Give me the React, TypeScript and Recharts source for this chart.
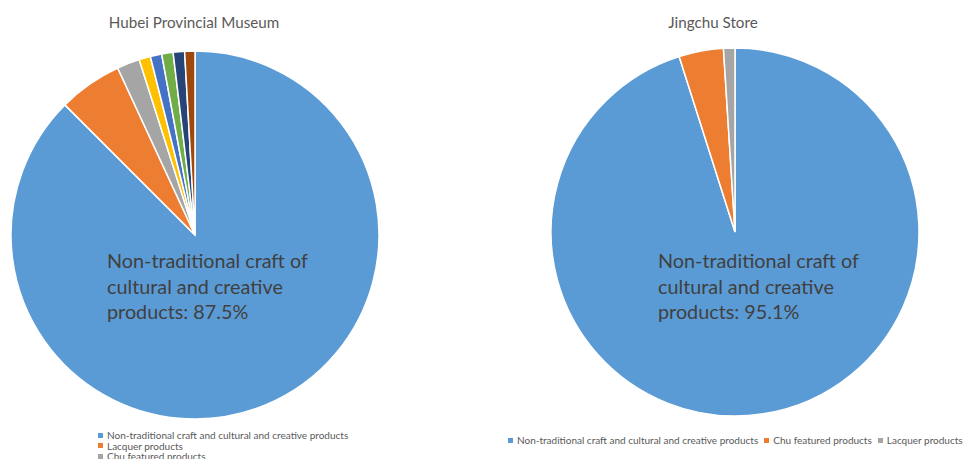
import React from 'react';
import { PieChart, Pie, Cell } from 'recharts';

const hubeiCategories = [
  'Non-traditional craft and cultural and creative products',
  'Lacquer products',
  'Chu featured products',
  'Bronze products',
  'Embroidery products',
  'Jade products',
  'Ceramic products',
  'Other products',
];
const hubeiValues = [87.5, 5.6, 2.0, 1.0, 1.0, 1.0, 1.0, 0.9];

const jingchuCategories = [
  'Non-traditional craft and cultural and creative products',
  'Chu featured products',
  'Lacquer products',
];
const jingchuValues = [95.1, 3.9, 1.0];

const hubeiColors = ['#5B9BD5', '#ED7D31', '#A5A5A5', '#FFC000', '#4472C4', '#70AD47', '#264478', '#9E480E'];
const jingchuColors = ['#5B9BD5', '#ED7D31', '#A5A5A5'];

const titles = ['Hubei Provincial Museum', 'Jingchu Store'];
const labelLines = ['Non-traditional craft of', 'cultural and creative', 'products: '];

const FONT = 'Lato, "Open Sans", sans-serif';

const hubeiData = hubeiCategories.map((name, i) => ({ name, value: hubeiValues[i] }));
const jingchuData = jingchuCategories.map((name, i) => ({ name, value: jingchuValues[i] }));

const makeLabel = (dx: number, dy: number) => (props: any) => {
  if (props.index !== 0) return null;
  const x = props.cx + dx;
  const y = props.cy + dy;
  return (
    <text x={x} y={y} fill="#404040" fontSize={19.8} fontFamily={FONT} textAnchor="start">
      <tspan x={x} dy={0}>{labelLines[0]}</tspan>
      <tspan x={x} dy={25.5}>{labelLines[1]}</tspan>
      <tspan x={x} dy={25.5}>{labelLines[2] + props.value.toFixed(1) + '%'}</tspan>
    </text>
  );
};

const LegendBox = ({
  names,
  colors,
  vertical,
  left,
  top,
}: {
  names: string[];
  colors: string[];
  vertical: boolean;
  left: number;
  top: number;
}) => (
  <div
    style={{
      position: 'absolute',
      left,
      top,
      display: 'flex',
      flexDirection: vertical ? 'column' : 'row',
      fontFamily: FONT,
      fontSize: 10,
      color: '#595959',
      lineHeight: vertical ? '10.5px' : '12px',
      whiteSpace: 'nowrap',
    }}
  >
    {names.map((n, i) => (
      <div key={i} style={{ display: 'flex', alignItems: 'center', marginRight: vertical ? 0 : 6 }}>
        <span style={{ display: 'inline-block', width: 5, height: 5, background: colors[i], marginRight: 4 }} />
        <span>{n}</span>
      </div>
    ))}
  </div>
);

const titleStyle = (left: number, width: number): React.CSSProperties => ({
  position: 'absolute',
  left,
  width,
  top: 12,
  textAlign: 'center',
  fontFamily: FONT,
  fontSize: 15.2,
  color: '#595959',
  lineHeight: '20px',
});

export default function App() {
  return (
    <div style={{ position: 'absolute', left: 0, top: 0, width: 963, height: 459, background: '#fff', overflow: 'hidden' }}>
      <div style={titleStyle(0, 388)}>{titles[0]}</div>
      <div style={titleStyle(490, 446)}>{titles[1]}</div>
      <div style={{ position: 'absolute', left: 0, top: 0 }}>
        <PieChart width={490} height={459} margin={{ top: 0, right: 0, bottom: 0, left: 0 }}>
          <Pie
            data={hubeiData}
            dataKey="value"
            nameKey="name"
            cx={195}
            cy={235}
            outerRadius={184}
            startAngle={90}
            endAngle={-270}
            stroke="#ffffff"
            strokeWidth={1.5}
            isAnimationActive={false}
            labelLine={false}
            label={makeLabel(-88, 33)}
          >
            {hubeiData.map((d, i) => (
              <Cell key={d.name} fill={hubeiColors[i]} />
            ))}
          </Pie>
        </PieChart>
      </div>
      <div style={{ position: 'absolute', left: 490, top: 0 }}>
        <PieChart width={473} height={459} margin={{ top: 0, right: 0, bottom: 0, left: 0 }}>
          <Pie
            data={jingchuData}
            dataKey="value"
            nameKey="name"
            cx={245}
            cy={232}
            outerRadius={184}
            startAngle={90}
            endAngle={-270}
            stroke="#ffffff"
            strokeWidth={1.5}
            isAnimationActive={false}
            labelLine={false}
            label={makeLabel(-77, 36)}
          >
            {jingchuData.map((d, i) => (
              <Cell key={d.name} fill={jingchuColors[i]} />
            ))}
          </Pie>
        </PieChart>
      </div>
      <LegendBox names={hubeiCategories} colors={hubeiColors} vertical={true} left={98} top={430} />
      <LegendBox names={jingchuCategories} colors={jingchuColors} vertical={false} left={508} top={434} />
    </div>
  );
}
